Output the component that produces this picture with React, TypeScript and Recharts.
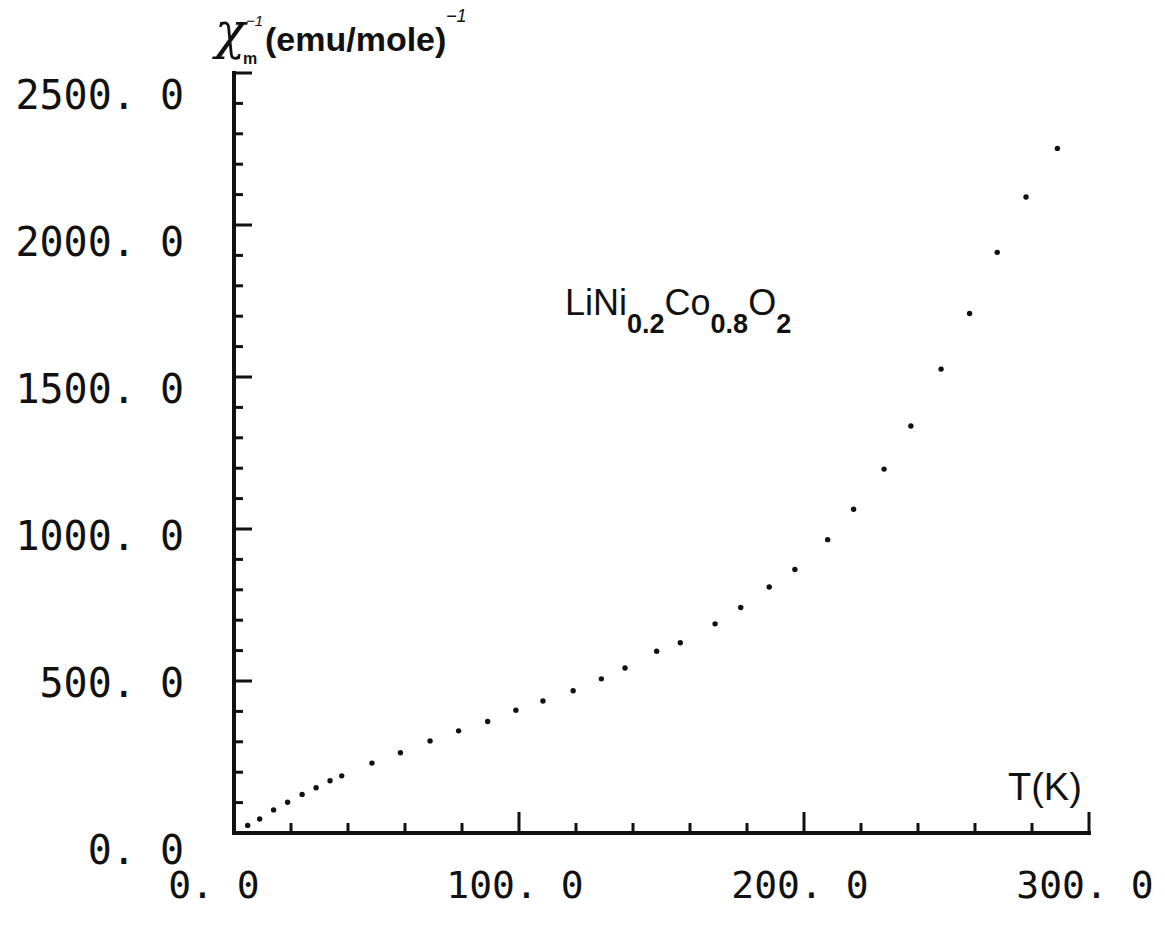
import React from "react";
import { ScatterChart, Scatter, XAxis, YAxis } from "recharts";

// inverse molar susceptibility vs temperature
const temperature = [
  4.8, 9.0, 13.9, 18.8, 23.9, 28.8, 33.7, 37.8, 48.4, 58.4, 68.8, 78.8, 89.0,
  98.9, 108.4, 119.0, 128.9, 137.2, 148.3, 156.6, 168.8, 177.8, 187.8, 196.8,
  208.3, 217.4, 228.1, 237.5, 248.1, 258.1, 267.8, 277.9, 288.9,
];
const invChi = [
  25, 46, 76, 101, 127, 149, 172, 188, 230, 264, 303, 336, 367, 404, 434, 468,
  507, 543, 598, 626, 688, 742, 809, 867, 965, 1065, 1197, 1339, 1526, 1709,
  1910, 2092, 2252,
];

const xTicks = [0, 20, 40, 60, 80, 100, 120, 140, 160, 180, 200, 220, 240, 260, 280, 300];
const yTicks = [
  0, 100, 200, 300, 400, 500, 600, 700, 800, 900, 1000, 1100, 1200, 1300, 1400,
  1500, 1600, 1700, 1800, 1900, 2000, 2100, 2200, 2300, 2400, 2500,
];

const data = temperature.map((t, i) => ({ t, chi: invChi[i] }));

const INK = "#111";
const tickFont = "'DejaVu Sans Mono', monospace";
const sans = "'Liberation Sans', Arial, sans-serif";

const fmt = (v: number) => v.toFixed(1).replace(".", ". ");

function YTick(props: any) {
  const { x, y, payload } = props;
  const v = payload.value;
  const major = v % 500 === 0;
  const len = major ? 18 : 9;
  const dy = v === 0 ? 17 : 2 + ((v - 500) / 500) * 5;
  return (
    <g>
      {v !== 0 && (
        <line x1={x} y1={y} x2={x + len} y2={y} stroke={INK} strokeWidth={3} />
      )}
      {major && (
        <text
          x={x - 50}
          y={y + dy}
          textAnchor="end"
          dominantBaseline="central"
          fontFamily={tickFont}
          fontSize={40}
          fill={INK}
        >
          {fmt(v)}
        </text>
      )}
    </g>
  );
}

function XTick(props: any) {
  const { x, y, payload } = props;
  const v = payload.value;
  const major = v % 100 === 0;
  const len = major ? 21 : 10;
  return (
    <g>
      {v !== 0 && (
        <line x1={x} y1={y} x2={x} y2={y - len} stroke={INK} strokeWidth={3} />
      )}
      {major && (
        <text
          x={x + (v === 0 ? -20 : -4)}
          y={y + 52}
          textAnchor="middle"
          dominantBaseline="central"
          fontFamily={tickFont}
          fontSize={38}
          fill={INK}
        >
          {fmt(v)}
        </text>
      )}
    </g>
  );
}

export default function App() {
  return (
    <div
      style={{
        position: "absolute",
        left: 0,
        top: 0,
        width: 1165,
        height: 934,
        background: "#fff",
      }}
    >
      <ScatterChart
        width={1165}
        height={934}
        margin={{ top: 73, right: 76, bottom: 41, left: 154 }}
      >
        <XAxis
          type="number"
          dataKey="t"
          domain={[0, 300]}
          ticks={xTicks}
          interval={0}
          height={60}
          tickSize={0}
          tickMargin={0}
          tickLine={false}
          tick={<XTick />}
          axisLine={{ stroke: INK, strokeWidth: 4, strokeLinecap: "square" }}
          allowDataOverflow
        />
        <YAxis
          type="number"
          dataKey="chi"
          domain={[0, 2500]}
          ticks={yTicks}
          interval={0}
          width={80}
          tickSize={0}
          tickMargin={0}
          tickLine={false}
          tick={<YTick />}
          axisLine={{ stroke: INK, strokeWidth: 4, strokeLinecap: "square" }}
          allowDataOverflow
        />
        <Scatter
          data={data}
          isAnimationActive={false}
          shape={(p: any) => <circle cx={p.cx} cy={p.cy} r={2.7} fill={INK} />}
        />
      </ScatterChart>

      <svg
        width={1165}
        height={934}
        style={{ position: "absolute", left: 0, top: 0, pointerEvents: "none" }}
      >
        {/* y axis title */}
        <text x={215} y={48} fontFamily="'DejaVu Serif', serif" fontStyle="italic" fontSize={50} fill={INK}>
          χ
        </text>
        <text x={243} y={64} fontFamily={sans} fontWeight="bold" fontSize={16} fill={INK}>
          m
        </text>
        <text x={246} y={26} fontFamily={sans} fontStyle="italic" fontSize={15} fill={INK}>
          −1
        </text>
        <text x={265} y={51} fontFamily={sans} fontWeight="bold" fontSize={34} fill={INK}>
          (emu/mole)
        </text>
        <text x={446} y={22} fontFamily={sans} fontStyle="italic" fontSize={18} fill={INK}>
          −1
        </text>

        {/* x axis title */}
        <text x={1008} y={800} fontFamily={sans} fontSize={38} fill={INK}>
          T(K)
        </text>

        {/* compound */}
        <text x={565} y={315} fontFamily={sans} fontSize={36} fill={INK}>
          LiNi
          <tspan dy={18} fontSize={27} fontWeight="bold">0.2</tspan>
          <tspan dy={-18}>Co</tspan>
          <tspan dy={18} fontSize={27} fontWeight="bold">0.8</tspan>
          <tspan dy={-18}>O</tspan>
          <tspan dy={18} fontSize={27} fontWeight="bold">2</tspan>
        </text>
      </svg>
    </div>
  );
}
